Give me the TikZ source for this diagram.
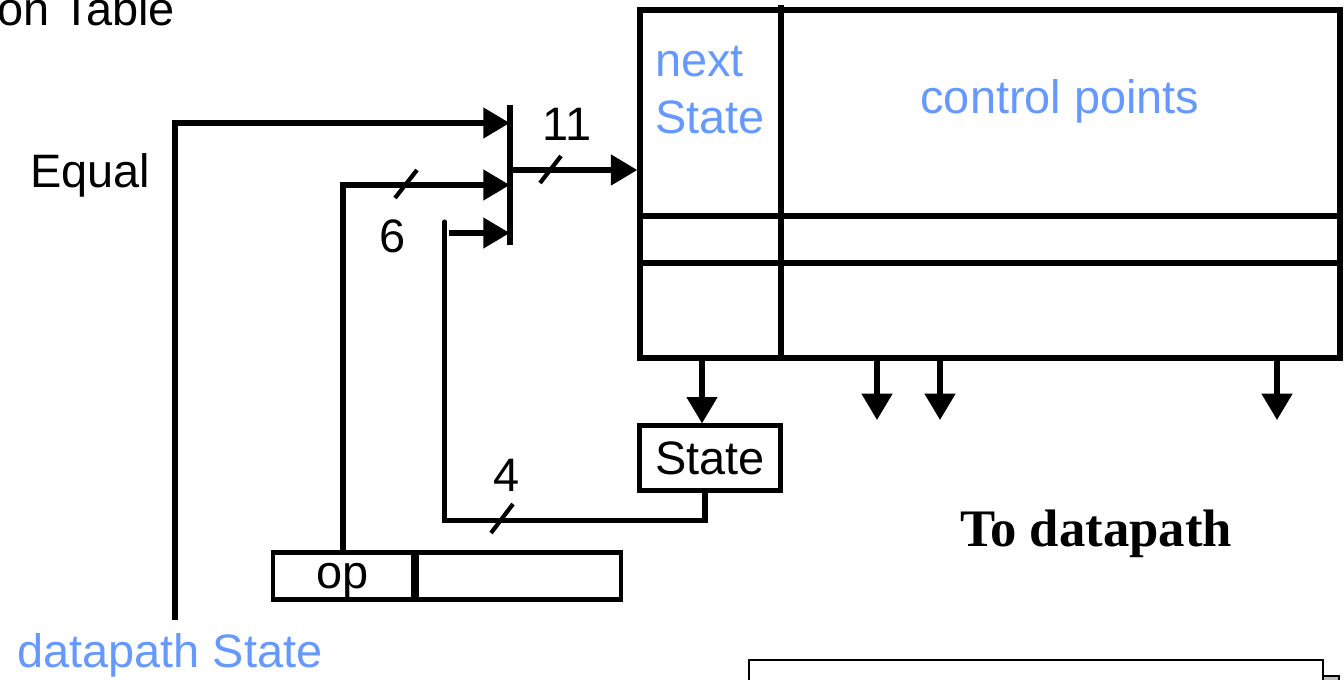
\documentclass[tikz,border=0pt]{standalone}
\usepackage{fontspec}
\setmainfont{Liberation Sans}
\newfontfamily\serifbf{Liberation Serif}
\usepackage{xcolor}
\usetikzlibrary{positioning, arrows.meta, calc}
\definecolor{ptblue}{RGB}{102,153,255}

\begin{document}
\begin{tikzpicture}[x=0.02cm, y=-0.02cm,
  txt/.style={font=\fontsize{26.7}{32}\selectfont, inner sep=0pt},
  blu/.style={txt, text=ptblue},
  reg/.style={draw, line width=2.4pt, txt, minimum width=2.8cm, minimum height=0.94cm},
  wire/.style={line width=2.9pt},
  arr/.style={wire, -{Triangle[length=15pt, width=17pt]}},
  slash/.style={line width=2.4pt},
]
\useasboundingbox (0,0) rectangle (1344,679);
\clip (0,0) rectangle (1344,679);

% --- Control table ---
\node[draw, line width=3.2pt, minimum width=14cm, minimum height=6.96cm, inner sep=0pt] (tbl) at (990,184) {};
\draw[wire] (781,5) -- (781,358);
\draw[wire] (640,216) -- (1340,216);
\draw[wire] (640,263) -- (1340,263);

\node[blu, anchor=base west] (nxt) at (655,76) {next};
\node[blu, anchor=base west] (nst) at (655,133) {State};
\node[blu, anchor=base] (ctl) at (1060,113) {control points};

% --- Registers ---
\node[reg, minimum width=2.82cm, minimum height=1.3cm] (st) at (710,458) {State};
\node[reg, text depth=0pt] (op) at (343,576) {op};
\node[reg, right=0pt of op, minimum width=4.08cm] (imm) {};

% --- Mux bar ---
\node[inner sep=0pt, minimum width=0pt, minimum height=2.8cm] (mux) at (510,175) {};
\draw[wire] (mux.north) -- (mux.south);
\coordinate (m1) at ([shift={(0,-52)}]mux.west);
\coordinate (m2) at ([shift={(0,10)}]mux.west);
\coordinate (m3) at ([shift={(0,58)}]mux.west);
\coordinate (mo) at ([shift={(0,-5)}]mux.east);

% --- Inputs ---
\coordinate (dps) at (175,620);
\node[blu, anchor=base] (dpl) at (170,667) {datapath State};
\node[txt, anchor=base west] (eql) at (30,187) {Equal};
\node[txt, anchor=base west] (ttl) at (-3,26) {on Table};

\draw[arr] (dps) |- (m1);
\draw[arr] (op.north) |- (m2);
\draw[wire, line cap=round] ([shift={(-5,0)}]st.south) -- ++(0,28) -| ([shift={(-65,-11)}]m3);
\draw[arr] ([shift={(-61,0)}]m3) -- (m3);
\draw[arr] (mo) -- (mo -| tbl.west);

% bus widths
\draw[slash] (395,198) -- ++(22,-28);
\draw[slash] (540,183) -- ++(21,-27);
\draw[slash] (491,533) -- ++(22,-29);
\node[txt, anchor=base] (w11) at (567,140) {11};
\node[txt, anchor=base] (w6) at (393,252) {6};
\node[txt, anchor=base] (w4) at (507,491) {4};

% --- Outputs ---
\draw[arr] ([shift={(-8,0)}]st.north |- tbl.south) -- ([shift={(-8,0)}]st.north);
\foreach \x [count=\i] in {877,940,1277} {
  \coordinate (out\i) at (\x,420);
  \draw[arr] (out\i |- tbl.south) -- (out\i);
}
\node[font=\serifbf\bfseries\fontsize{30}{36}\selectfont, inner sep=0pt, anchor=base] (todp) at (1096,546) {To datapath};

% --- Partial box at bottom ---
\draw[line width=1.6pt] (749,700) |- (1323,660) -- (1323,700);
\filldraw[fill=gray!50, line width=1.2pt] (1323,676) rectangle (1339,700);

\end{tikzpicture}
\end{document}
